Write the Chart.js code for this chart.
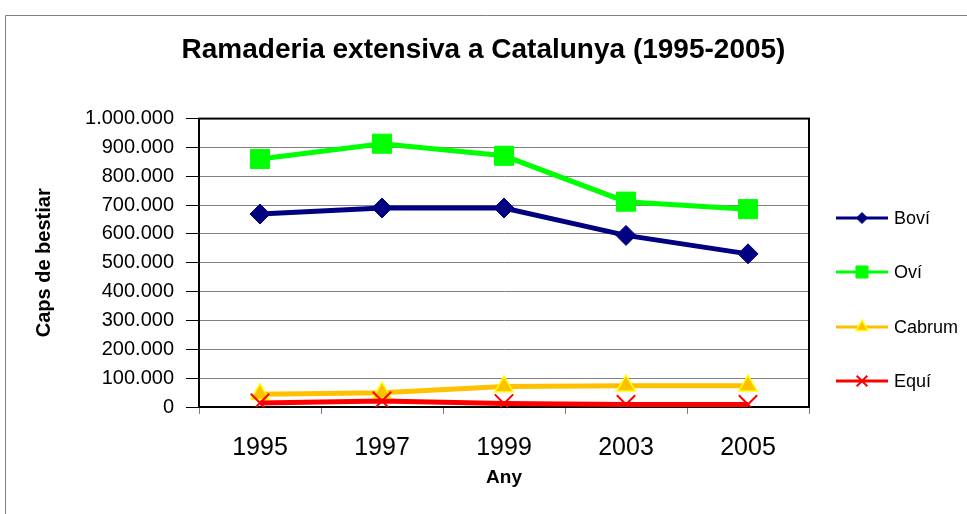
<!DOCTYPE html>
<html>
<head>
<meta charset="utf-8">
<script src="https://cdn.jsdelivr.net/npm/chart.js@4/dist/chart.umd.min.js"></script>
<style>
  html, body { margin: 0; padding: 0; background: #fff; }
  #wrap { width: 967px; height: 514px; }
</style>
</head>
<body>
<div id="wrap"><canvas id="chart" width="967" height="514"></canvas></div>
<script>
// data
const years = ['1995', '1997', '1999', '2003', '2005'];
const bovi = [669000, 690000, 690000, 595000, 531000];
const ovi = [860000, 913000, 871000, 712000, 686000];
const cabrum = [44000, 49000, 71000, 74000, 74000];
const equi = [14000, 21000, 12000, 9000, 9000];
const seriesNames = ['Boví', 'Oví', 'Cabrum', 'Equí'];

const FONT = '"Liberation Sans", Arial, sans-serif';

const fmt = v => String(v).replace(/\B(?=(\d{3})+(?!\d))/g, '.');

// frame around the whole chart and around the plot area
const frames = {
  id: 'frames',
  beforeDraw(chart) {
    const ctx = chart.ctx;
    ctx.save();
    ctx.strokeStyle = '#808080';
    ctx.lineWidth = 1;
    ctx.beginPath();
    ctx.moveTo(967, 15.5);
    ctx.lineTo(5.5, 15.5);
    ctx.lineTo(5.5, 514);
    ctx.stroke();
    ctx.restore();
  },
  beforeDatasetsDraw(chart) {
    const a = chart.chartArea, ctx = chart.ctx;
    ctx.save();
    ctx.strokeStyle = '#000';
    ctx.lineWidth = 2;
    ctx.strokeRect(a.left, a.top, a.right - a.left, a.bottom - a.top);
    ctx.restore();
  }
};

// excel style legend: short line with the marker in its middle
const sideLegend = {
  id: 'sideLegend',
  afterDraw(chart) {
    const ctx = chart.ctx;
    const rows = [218, 272, 327, 381];
    const sizes = [5.5, 8.5, 7, 7.5];
    ctx.save();
    seriesNames.forEach((name, i) => {
      const ds = chart.data.datasets.find(d => d.label === name);
      const y = rows[i];
      ctx.strokeStyle = ds.borderColor;
      ctx.lineWidth = 3;
      ctx.beginPath();
      ctx.moveTo(836, y);
      ctx.lineTo(888, y);
      ctx.stroke();
      ctx.fillStyle = ds.pointBackgroundColor;
      ctx.strokeStyle = ds.pointBorderColor;
      ctx.lineWidth = ds.pointBorderWidth;
      Chart.helpers.drawPoint(ctx, { pointStyle: ds.pointStyle, radius: sizes[i], rotation: 0, borderWidth: ds.pointBorderWidth }, 862, y);
      ctx.fillStyle = '#000';
      ctx.font = '18px ' + FONT;
      ctx.textBaseline = 'middle';
      ctx.textAlign = 'left';
      ctx.fillText(name, 894, y + 1);
    });
    ctx.restore();
  }
};

new Chart(document.getElementById('chart'), {
  type: 'line',
  data: {
    labels: years,
    datasets: [
      {
        label: seriesNames[0], data: bovi, order: 3,
        borderColor: '#000080', borderWidth: 5,
        pointStyle: 'rectRot', pointRadius: 10, pointBorderWidth: 1,
        pointBackgroundColor: '#000080', pointBorderColor: '#000080'
      },
      {
        label: seriesNames[1], data: ovi, order: 2,
        borderColor: '#00FF00', borderWidth: 5,
        pointStyle: 'rect', pointRadius: 13.5, pointBorderWidth: 1,
        pointBackgroundColor: '#00FF00', pointBorderColor: '#00FF00'
      },
      {
        label: seriesNames[2], data: cabrum, order: 1,
        borderColor: '#FFC000', borderWidth: 5,
        pointStyle: 'triangle', pointRadius: 10.5, pointBorderWidth: 1.5,
        pointBackgroundColor: '#FFC000', pointBorderColor: '#FFFF00'
      },
      {
        label: seriesNames[3], data: equi, order: 0,
        borderColor: '#FF0000', borderWidth: 5,
        pointStyle: 'crossRot', pointRadius: 13, pointBorderWidth: 2,
        pointBackgroundColor: '#FF0000', pointBorderColor: '#FF0000'
      }
    ]
  },
  options: {
    responsive: false,
    animation: false,
    layout: { padding: 0 },
    plugins: {
      legend: { display: false },
      tooltip: { enabled: false },
      title: {
        display: true,
        text: 'Ramaderia extensiva a Catalunya (1995-2005)',
        color: '#000',
        font: { family: FONT, size: 28, weight: 'bold' },
        padding: { top: 33, bottom: 52 }
      }
    },
    scales: {
      x: {
        offset: true,
        grid: { display: true, offset: true, drawOnChartArea: false, tickLength: 7, tickColor: '#808080' },
        border: { color: '#000', width: 2 },
        ticks: { color: '#000', padding: 19, font: { family: FONT, size: 25 } },
        title: { display: true, text: 'Any', color: '#000', font: { family: FONT, size: 19, weight: 'bold' }, padding: { top: 0, bottom: 25 } },
        afterFit: s => { s.height = 107; }
      },
      y: {
        min: 0,
        max: 1000000,
        ticks: { stepSize: 100000, color: '#000', padding: 12, font: { family: FONT, size: 20 }, callback: v => fmt(v) },
        grid: { color: '#808080', lineWidth: 1, tickLength: 13, tickColor: '#000' },
        border: { color: '#000', width: 2 },
        title: { display: true, text: 'Caps de bestiar', color: '#000', font: { family: FONT, size: 20, weight: 'bold' }, padding: { top: 32, bottom: 0 } },
        afterFit: s => { s.width = 199; }
      },
      // empty right axis that keeps room for the legend
      side: {
        position: 'right',
        display: true,
        grid: { display: false },
        border: { display: false },
        ticks: { display: false },
        afterFit: s => { s.width = 158; }
      }
    }
  },
  plugins: [frames, sideLegend]
});
</script>
</body>
</html>
